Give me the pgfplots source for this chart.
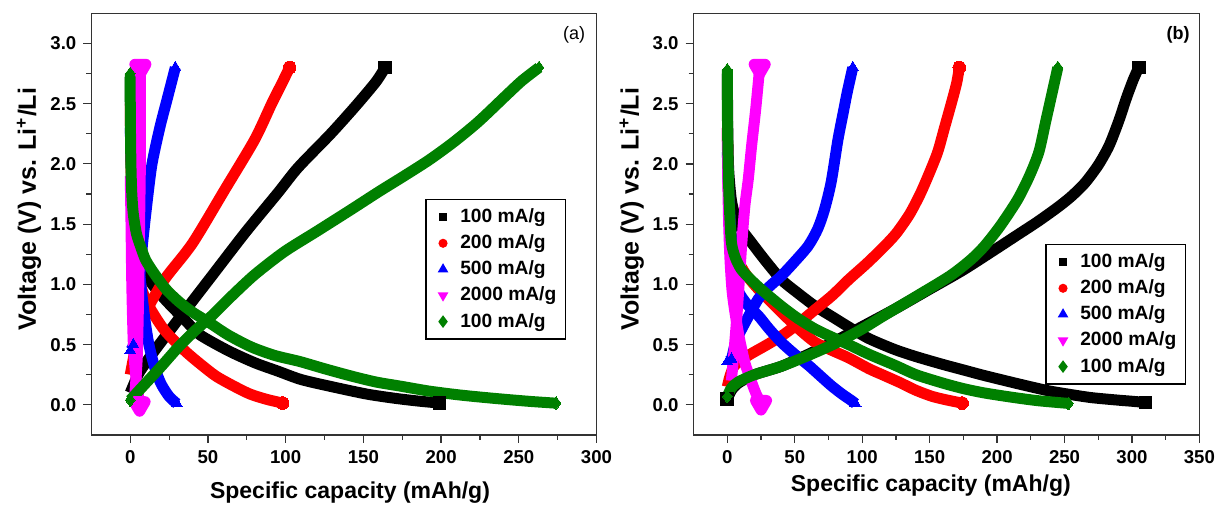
\documentclass[border=0pt]{standalone}
\usepackage{fontspec}
\setmainfont{Liberation Sans}
\usepackage{pgfplots}
\pgfplotsset{compat=1.18}
\definecolor{cblack}{RGB}{0,0,0}
\definecolor{cred}{RGB}{255,0,0}
\definecolor{cblue}{RGB}{0,0,255}
\definecolor{cmag}{RGB}{255,0,255}
\definecolor{cgreen}{RGB}{0,128,0}
\pgfplotsset{
  panel/.style={
    scale only axis,
    height=210.85pt,
    ymin=-0.25, ymax=3.25,
    ytick={0,0.5,1,1.5,2,2.5,3},
    minor y tick num=1, minor x tick num=1,
    xmin=-25,
    tick align=outside, tick pos=left,
    major tick length=4pt, minor tick length=2.5pt,
    axis line style={line width=0.75pt, black!80},
    tick style={line width=0.6pt, black!80},
    /pgf/number format/assume math mode=true,
    ticklabel style={font=\bfseries\fontsize{9.3}{11}\selectfont},
    yticklabel style={/pgf/number format/.cd, fixed, fixed zerofill, precision=1},
    xlabel style={font=\bfseries\fontsize{11.5}{13}\selectfont, anchor=center},
    ylabel style={font=\bfseries\fontsize{12.5}{14}\selectfont, anchor=center},
    legend cell align=left,
    legend style={draw=black, line width=0.7pt, font=\bfseries\fontsize{9.6}{11}\selectfont,
      row sep=0.6pt, inner sep=2.5pt, anchor=north east},
    legend image code/.code={\path (0,0) (0.42cm,0); \draw[##1] plot coordinates {(0.2cm,0cm)};},
    xlabel={Specific capacity (mAh/g)},
    ylabel={Voltage (V) vs. Li\textsuperscript{+}/Li},
  },
  crv/.style={line width=5.5pt, line join=round, smooth, tension=0.45, forget plot, mark size=3.2pt,
    mark options={solid, line width=0pt}},
  ends/.style={mark indices={#1}},
}
\begin{document}
\begin{tikzpicture}
\path[use as bounding box] (0,0) rectangle (609pt,253pt);
% ---------------- panel (a)
\begin{axis}[panel, at={(45.7pt,35.5pt)}, anchor=south west,
  width=252.55pt, xmax=300, xtick={0,50,100,150,200,250,300},
  xlabel style={at={(axis description cs:0.512,-0.1375)}},
  ylabel style={at={(axis description cs:-0.1235,0.536)}},
  legend style={at={(0.9396,0.5596)}}]
\addlegendimage{only marks, mark=square*, cblack, mark size=1.8pt}
\addlegendentry{100 mA/g}
\addlegendimage{only marks, mark=*, cred, mark size=1.9pt}
\addlegendentry{200 mA/g}
\addlegendimage{only marks, mark=triangle*, cblue, mark size=2.4pt}
\addlegendentry{500 mA/g}
\addlegendimage{only marks, mark=triangle*, mark options={rotate=180}, cmag, mark size=2.4pt}
\addlegendentry{2000 mA/g}
\addlegendimage{only marks, mark=diamond*, cgreen, mark size=2.6pt}
\addlegendentry{100 mA/g}
% black
\addplot[crv, cblack, mark=square*, ends=19] coordinates {(0,2.72)(0.3,2.3)(0.8,1.9)(2,1.55)(4,1.32)(7,1.18)(12,1.04)(22,0.88)(37,0.68)(45,0.58)(63,0.45)(80,0.35)(95,0.28)(110,0.21)(130,0.15)(152,0.09)(170,0.055)(185,0.032)(199,0.015)};
\addplot[crv, cblack, mark=square*, ends=13] coordinates {(0,0.1)(5,0.25)(10,0.35)(18,0.49)(31,0.71)(52.5,1.07)(74,1.43)(95,1.76)(108,1.97)(129,2.25)(145,2.48)(158,2.68)(164,2.8)};
% red
\addplot[crv, cred, mark=*, ends=11] coordinates {(0,0.25)(3,0.45)(6,0.62)(10,0.77)(22,1.04)(40,1.34)(61,1.79)(80,2.2)(91,2.5)(98,2.68)(102.5,2.8)};
\addplot[crv, cred, mark=*, ends=14] coordinates {(0,2.5)(0.5,2.0)(1.5,1.6)(3.5,1.25)(7,0.98)(12,0.82)(22,0.62)(35,0.45)(45,0.34)(55,0.24)(66,0.16)(77,0.09)(88,0.045)(98,0.015)};
% blue
\addplot[crv, cblue, mark=triangle*, ends={1,2,10}] coordinates {(0,0.45)(2,0.5)(4,0.75)(6,1.05)(8,1.35)(11,1.7)(14,2.0)(19,2.3)(24,2.55)(29,2.8)};
\addplot[crv, cblue, mark=triangle*, ends=10] coordinates {(0,2.3)(1,1.9)(3,1.5)(6,1.1)(9,0.75)(12,0.5)(16,0.3)(20,0.17)(25,0.07)(30,0.01)};
% magenta
\addplot[crv, cmag, mark=triangle*, mark options={rotate=180}, ends=7] coordinates {(0,1.9)(0.5,1.5)(1,1.0)(2,0.5)(3.5,0.25)(5,0.1)(6,0.0)};
\addplot[crv, cmag, mark=triangle*, mark options={rotate=180}, ends=7] coordinates {(3,0.1)(4.5,0.4)(5.5,1.0)(6,1.5)(6.5,2.0)(6.5,2.5)(6.5,2.8)};
% green
\addplot[crv, cgreen, mark=diamond*, ends={1,28}] coordinates {(0,2.75)(0,2.5)(0.2,2.2)(0.5,1.95)(1,1.75)(2,1.58)(4,1.42)(6.5,1.32)(10,1.2)(16,1.08)(23,0.96)(31,0.86)(40,0.77)(50,0.69)(63,0.58)(78,0.48)(93,0.41)(109,0.36)(125,0.3)(142,0.24)(158,0.19)(174,0.155)(192,0.115)(210,0.085)(225,0.065)(242,0.045)(258,0.028)(274,0.014)};
\addplot[crv, cgreen, mark=diamond*, ends={1,19}] coordinates {(0,0.04)(10,0.18)(20,0.32)(31,0.48)(42,0.62)(52.5,0.74)(65,0.9)(80,1.08)(99,1.27)(120,1.44)(142,1.62)(160,1.77)(175,1.89)(192,2.03)(208,2.18)(224,2.35)(242,2.57)(252,2.69)(263,2.8)};
\node[font=\fontsize{9}{10}\selectfont] at (rel axis cs:0.9555,0.9485) {(a)};
\end{axis}
% ---------------- panel (b)
\begin{axis}[panel, at={(346.8pt,35.5pt)}, anchor=south west,
  width=252.9pt, xmax=350, xtick={0,50,100,150,200,250,300,350},
  xlabel style={at={(axis description cs:0.469,-0.121)}},
  ylabel style={at={(axis description cs:-0.1224,0.536)}},
  legend style={at={(0.9735,0.4529)}}]
\addlegendimage{only marks, mark=square*, cblack, mark size=1.8pt}
\addlegendentry{100 mA/g}
\addlegendimage{only marks, mark=*, cred, mark size=1.9pt}
\addlegendentry{200 mA/g}
\addlegendimage{only marks, mark=triangle*, cblue, mark size=2.4pt}
\addlegendentry{500 mA/g}
\addlegendimage{only marks, mark=triangle*, mark options={rotate=180}, cmag, mark size=2.4pt}
\addlegendentry{2000 mA/g}
\addlegendimage{only marks, mark=diamond*, cgreen, mark size=2.6pt}
\addlegendentry{100 mA/g}
% black
\addplot[crv, cblack, mark=square*, ends=27] coordinates {(0,2.75)(0.3,2.3)(1,1.95)(3,1.7)(6,1.56)(11,1.45)(17,1.36)(28,1.2)(40,1.04)(52,0.93)(65,0.82)(78,0.73)(91,0.64)(105,0.55)(124,0.46)(140,0.4)(160,0.335)(175,0.29)(190,0.245)(210,0.19)(225,0.15)(239,0.115)(255,0.085)(270,0.06)(289,0.04)(300,0.03)(310,0.02)};
\addplot[crv, cblack, mark=square*, ends={1,23}] coordinates {(0,0.05)(3,0.12)(8,0.18)(20,0.25)(40,0.32)(60,0.42)(80,0.53)(100,0.65)(125,0.8)(150,0.96)(175,1.12)(200,1.3)(215,1.41)(230,1.52)(245,1.64)(255,1.73)(265,1.84)(275,1.99)(283,2.15)(290,2.35)(296,2.55)(301,2.7)(305,2.8)};
% red
\addplot[crv, cred, mark=*, ends=20] coordinates {(0,2.3)(0.5,1.9)(1.5,1.6)(3,1.4)(7,1.22)(14,1.08)(23,0.96)(32,0.86)(40,0.77)(52,0.64)(65,0.52)(78,0.45)(90,0.39)(105,0.3)(115,0.25)(128,0.185)(140,0.12)(152,0.07)(163,0.04)(174,0.015)};
\addplot[crv, cred, mark=*, ends=21] coordinates {(0,0.15)(2,0.24)(5.6,0.33)(15.5,0.41)(28,0.49)(40,0.57)(52,0.67)(65,0.79)(78,0.91)(90,1.04)(103,1.17)(115,1.3)(125,1.42)(135,1.58)(143,1.75)(150,1.93)(156,2.1)(161,2.3)(166,2.5)(170,2.67)(172,2.8)};
% blue
\addplot[crv, cblue, mark=triangle*, ends={1,2,17}] coordinates {(0,0.36)(3,0.38)(5,0.47)(8,0.57)(15,0.72)(23,0.88)(31,0.98)(40,1.07)(50,1.19)(60,1.32)(67,1.46)(72,1.62)(77,1.85)(82,2.2)(86,2.43)(89,2.6)(93,2.8)};
\addplot[crv, cblue, mark=triangle*, ends=16] coordinates {(0,2.1)(1,1.75)(2.5,1.45)(5,1.15)(8,0.95)(15,0.83)(23,0.74)(31,0.63)(40,0.52)(50,0.42)(60,0.33)(68,0.25)(77,0.16)(85,0.09)(92,0.036)(95,0.01)};
% magenta
\addplot[crv, cmag, mark=triangle*, mark options={rotate=180}, ends=11] coordinates {(0,2.3)(0.3,1.9)(1,1.5)(2,1.2)(3.5,0.95)(5.6,0.77)(9,0.55)(13,0.35)(17,0.22)(21,0.1)(25,0.01)};
\addplot[crv, cmag, mark=triangle*, mark options={rotate=180}, ends=9] coordinates {(3,0.2)(5,0.45)(7.5,0.8)(10.6,1.32)(13,1.65)(15.5,1.87)(18,2.15)(21,2.45)(24,2.8)};
% green
\addplot[crv, cgreen, mark=diamond*, ends={1,21}] coordinates {(0,0.07)(3,0.14)(8,0.19)(20,0.25)(40,0.32)(60,0.41)(80,0.51)(100,0.63)(116,0.74)(140,0.9)(165,1.07)(180,1.2)(190,1.31)(202,1.48)(215,1.7)(224,1.9)(231,2.1)(236,2.35)(240,2.55)(243,2.7)(245,2.8)};
\addplot[crv, cgreen, mark=diamond*, ends={1,24}] coordinates {(0,2.78)(0,2.5)(0.3,2.2)(0.8,1.9)(1.5,1.65)(3,1.35)(6,1.22)(10,1.13)(15.5,1.06)(25,0.96)(40,0.82)(52,0.72)(65,0.63)(78,0.56)(90,0.5)(105,0.42)(124,0.33)(140,0.25)(160,0.18)(175,0.135)(190,0.1)(210,0.065)(230,0.035)(253,0.012)};
\node[font=\bfseries\fontsize{9}{10}\selectfont] at (rel axis cs:0.9577,0.9485) {(b)};
\end{axis}
\end{tikzpicture}
\end{document}
